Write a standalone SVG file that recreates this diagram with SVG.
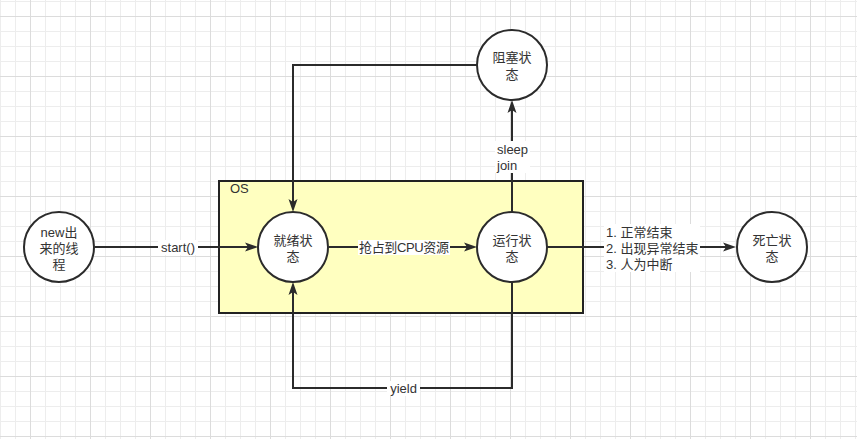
<svg xmlns="http://www.w3.org/2000/svg" width="857" height="439" viewBox="0 0 857 439">
<style>
.t{font-family:"Liberation Sans","Noto Sans CJK SC",sans-serif;font-size:13px;fill:#333333;}
.c{text-anchor:middle;dominant-baseline:central;}
.l{dominant-baseline:central;}
.node{fill:#ffffff;stroke:#2b2b2b;stroke-width:2;}
.edge{fill:none;stroke:#2b2b2b;stroke-width:2;}
.lbg{fill:#ffffff;}
</style>
<defs>
<pattern id="grid" x="30" y="16" width="60" height="60" patternUnits="userSpaceOnUse">
<rect x="0" y="0" width="60" height="60" fill="#ffffff"/>
<rect x="15" y="0" width="1" height="60" fill="#ededed"/>
<rect x="30" y="0" width="1" height="60" fill="#ededed"/>
<rect x="45" y="0" width="1" height="60" fill="#ededed"/>
<rect x="0" y="15" width="60" height="1" fill="#ededed"/>
<rect x="0" y="30" width="60" height="1" fill="#ededed"/>
<rect x="0" y="45" width="60" height="1" fill="#ededed"/>
<rect x="0" y="0" width="1" height="60" fill="#dcdcdc"/>
<rect x="0" y="0" width="60" height="1" fill="#dcdcdc"/>
</pattern>
<marker id="arr" markerUnits="userSpaceOnUse" markerWidth="14" markerHeight="10" refX="3" refY="5" orient="auto" overflow="visible">
<path d="M0,0.5 L13,5 L0,9.5 L3,5 Z" fill="#2b2b2b"/>
</marker>
</defs>
<rect x="0" y="0" width="857" height="439" fill="url(#grid)"/>

<g id="os">
<rect x="219" y="181" width="364" height="132" fill="#ffffc0" stroke="#222222" stroke-width="2"/>
<text class="t l" x="230" y="188">OS</text>
</g>

<g id="connectors">
<path class="edge" d="M95,247 L248,247" marker-end="url(#arr)"/>
<path class="edge" d="M329,247 L467,247" marker-end="url(#arr)"/>
<path class="edge" d="M512,212 L512,110" marker-end="url(#arr)"/>
<path class="edge" d="M477,65 L293,65 L293,202" marker-end="url(#arr)"/>
<path class="edge" d="M512,282 L512,388 L293,388 L293,292" marker-end="url(#arr)"/>
<path class="edge" d="M547,247 L726,247" marker-end="url(#arr)"/>
<rect class="lbg" x="158" y="240" width="40" height="15"/>
<text class="t c" x="178" y="247.5">start()</text>
<rect class="lbg" x="358" y="240" width="92" height="15"/>
<text class="t c" x="404" y="247.5" textLength="90" lengthAdjust="spacing">抢占到CPU资源</text>
<rect class="lbg" x="495" y="141" width="35" height="32"/>
<text class="t l" x="497" y="149">sleep</text>
<text class="t l" x="497" y="165">join</text>
<rect class="lbg" x="387" y="381" width="33" height="15"/>
<text class="t c" x="403.5" y="388.5">yield</text>
<rect class="lbg" x="604" y="224" width="96" height="48"/>
<text class="t l" x="606" y="232">1. 正常结束</text>
<text class="t l" x="606" y="248">2. 出现异常结束</text>
<text class="t l" x="606" y="264">3. 人为中断</text>
</g>

<g id="new">
<circle class="node" cx="59" cy="247" r="35"/>
<text class="t c" x="59" y="232">new出</text>
<text class="t c" x="59" y="248">来的线</text>
<text class="t c" x="59" y="264">程</text>
</g>
<g id="ready">
<circle class="node" cx="293" cy="247" r="35"/>
<text class="t c" x="293" y="240">就绪状</text>
<text class="t c" x="293" y="256">态</text>
</g>
<g id="running">
<circle class="node" cx="512" cy="247" r="35"/>
<text class="t c" x="512" y="240">运行状</text>
<text class="t c" x="512" y="256">态</text>
</g>
<g id="blocked">
<circle class="node" cx="512" cy="65" r="35"/>
<text class="t c" x="512" y="57">阻塞状</text>
<text class="t c" x="512" y="74">态</text>
</g>
<g id="dead">
<circle class="node" cx="772" cy="247" r="35"/>
<text class="t c" x="772" y="240">死亡状</text>
<text class="t c" x="772" y="256">态</text>
</g>
</svg>
